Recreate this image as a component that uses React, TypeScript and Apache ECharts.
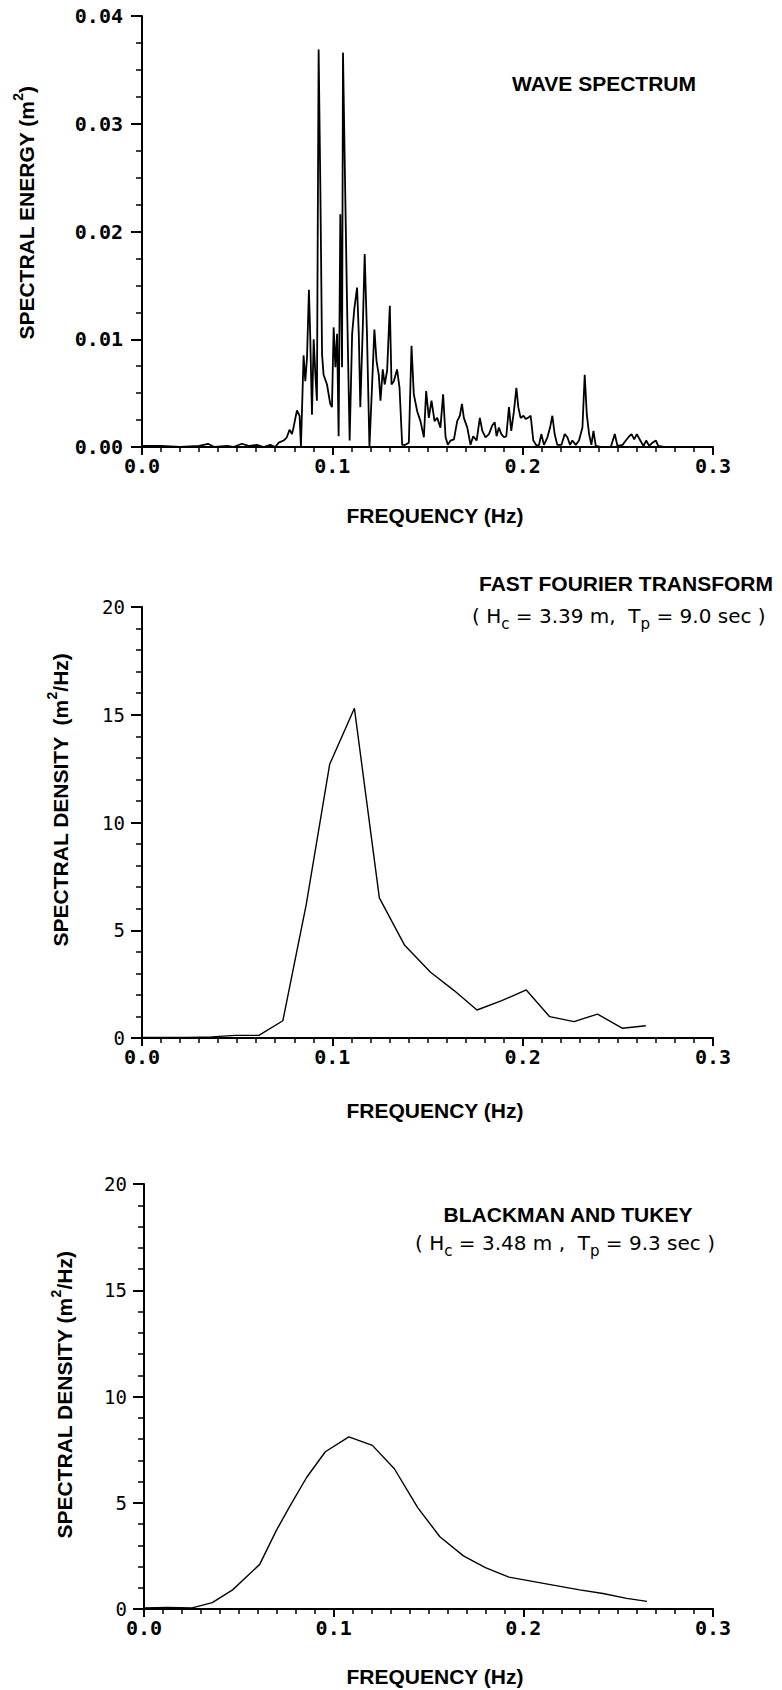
import React, { useEffect, useRef } from 'react';
import * as echarts from 'echarts';

// ---------- DATA ----------
const waveFreq = [
  0, 0.010, 0.020, 0.030, 0.0347, 0.038, 0.0447, 0.048, 0.0525, 0.056,
  0.0568, 0.0604, 0.0639, 0.0674, 0.0700, 0.0718, 0.0744, 0.0761, 0.0775, 0.0788,
  0.0796, 0.0814, 0.0828, 0.0835, 0.0849, 0.0858, 0.0867, 0.0877, 0.0884, 0.0893,
  0.0902, 0.0911, 0.0919, 0.0928, 0.0937, 0.0946, 0.0954, 0.0972, 0.0989, 0.0998,
  0.1007, 0.1016, 0.1025, 0.1033, 0.1042, 0.1051, 0.1056, 0.1065, 0.1077, 0.1091,
  0.1104, 0.1116, 0.1130, 0.1139, 0.1147, 0.1160, 0.1170, 0.1182, 0.1195, 0.1209,
  0.1221, 0.1232, 0.1244, 0.1253, 0.1265, 0.1275, 0.1288, 0.1302, 0.1311, 0.1323,
  0.1340, 0.1353, 0.1367, 0.1384, 0.1402, 0.1416, 0.1428, 0.1446, 0.1463, 0.1481,
  0.1493, 0.1507, 0.1521, 0.1537, 0.1551, 0.1568, 0.1582, 0.1595, 0.1607, 0.1621,
  0.1639, 0.1656, 0.1670, 0.1681, 0.1691, 0.1709, 0.1726, 0.1740, 0.1758, 0.1775,
  0.1788, 0.1805, 0.1823, 0.1840, 0.1853, 0.1863, 0.1875, 0.1888, 0.1902, 0.1914,
  0.1928, 0.1940, 0.1954, 0.1967, 0.1977, 0.1989, 0.2004, 0.2016, 0.2028, 0.2042,
  0.2056, 0.2074, 0.2086, 0.2098, 0.2112, 0.2130, 0.2144, 0.2156, 0.2168, 0.2182,
  0.2204, 0.2221, 0.2235, 0.2249, 0.2261, 0.2279, 0.2296, 0.2314, 0.2326, 0.2337,
  0.2349, 0.2361, 0.2372, 0.2384, 0.2411, 0.2463, 0.2484, 0.2498, 0.2525, 0.2542,
  0.2560, 0.2572, 0.2586, 0.2600, 0.2618, 0.2635, 0.2649, 0.2665, 0.2682, 0.2700,
  0.2712, 0.2744,
];
const waveEnergy = [
  0.0001, 0.0001, 0.0000, 0.0001, 0.0003, 0.0000, 0.0001, 0.0000, 0.0003, 0.0001,
  0.0001, 0.0002, 0.0000, 0.0002, 0.0000, 0.0004, 0.0006, 0.0009, 0.0016, 0.0012,
  0.0018, 0.0034, 0.0029, 0.0000, 0.0085, 0.0061, 0.0083, 0.0146, 0.0102, 0.0030,
  0.0100, 0.0067, 0.0043, 0.0369, 0.0241, 0.0086, 0.0067, 0.0058, 0.0040, 0.0037,
  0.0111, 0.0074, 0.0105, 0.0010, 0.0216, 0.0074, 0.0366, 0.0266, 0.0136, 0.0006,
  0.0105, 0.0129, 0.0148, 0.0105, 0.0037, 0.0111, 0.0179, 0.0105, 0.0000, 0.0058,
  0.0109, 0.0080, 0.0067, 0.0043, 0.0072, 0.0058, 0.0071, 0.0131, 0.0058, 0.0061,
  0.0072, 0.0055, 0.0002, 0.0002, 0.0004, 0.0094, 0.0049, 0.0033, 0.0024, 0.0009,
  0.0052, 0.0027, 0.0043, 0.0024, 0.0027, 0.0018, 0.0049, 0.0009, 0.0002, 0.0006,
  0.0007, 0.0024, 0.0029, 0.0040, 0.0027, 0.0018, 0.0002, 0.0010, 0.0006, 0.0027,
  0.0015, 0.0009, 0.0012, 0.0020, 0.0023, 0.0010, 0.0018, 0.0012, 0.0009, 0.0010,
  0.0037, 0.0015, 0.0033, 0.0055, 0.0037, 0.0027, 0.0029, 0.0026, 0.0027, 0.0029,
  0.0006, 0.0001, 0.0002, 0.0012, 0.0002, 0.0009, 0.0018, 0.0029, 0.0012, 0.0002,
  0.0002, 0.0012, 0.0009, 0.0002, 0.0006, 0.0002, 0.0006, 0.0018, 0.0067, 0.0030,
  0.0012, 0.0002, 0.0015, 0.0001, 0.0000, 0.0000, 0.0012, 0.0001, 0.0002, 0.0006,
  0.0010, 0.0012, 0.0007, 0.0012, 0.0006, 0.0001, 0.0006, 0.0001, 0.0004, 0.0006,
  0.0001, 0.0000,
];

const fftFreq = [
  0, 0.0116, 0.0241, 0.0366, 0.049, 0.0614, 0.074, 0.0863, 0.0986, 0.1116, 0.1247,
  0.138, 0.1516, 0.164, 0.176, 0.189, 0.2019, 0.2142, 0.227, 0.2393, 0.2525, 0.2647,
];
const fftDensity = [
  0.02, 0.02, 0.03, 0.05, 0.12, 0.12, 0.8, 6.2, 12.7, 15.3, 6.5,
  4.3, 3.05, 2.2, 1.3, 1.73, 2.23, 0.99, 0.76, 1.11, 0.45, 0.57,
];

const btFreq = [
  0, 0.0124, 0.0254, 0.036, 0.0467, 0.061, 0.0698, 0.077, 0.0858, 0.0956, 0.108, 0.1204,
  0.132, 0.1444, 0.156, 0.1684, 0.18, 0.1924, 0.2048, 0.2172, 0.2297, 0.242, 0.2545, 0.2652,
];
const btDensity = [
  0.05, 0.07, 0.05, 0.3, 0.9, 2.1, 3.7, 4.85, 6.2, 7.4, 8.1, 7.7,
  6.6, 4.76, 3.4, 2.5, 1.95, 1.5, 1.3, 1.1, 0.9, 0.73, 0.5, 0.36,
];

const freqTickLabels = ['0.0', '0.1', '0.2', '0.3'];
const energyTickLabels = ['0.00', '0.01', '0.02', '0.03', '0.04'];
const densityTickLabels = ['0', '5', '10', '15', '20'];

// ---------- LAYOUT ----------
const grids = [
  { left: 142, top: 16, width: 571, height: 431 },
  { left: 142, top: 607, width: 571, height: 431 },
  { left: 144, top: 1184, width: 569, height: 425 },
];

const MONO = '"DejaVu Sans Mono", "Liberation Mono", monospace';
const SANS = '"Liberation Sans", Arial, sans-serif';
const GEO = '"DejaVu Sans", "Noto Sans", sans-serif';

function xAxisFor(i: number) {
  return {
    type: 'value',
    gridIndex: i,
    min: 0,
    max: 0.3,
    interval: 0.1,
    axisLine: { show: true, onZero: false, lineStyle: { color: '#000', width: 2 } },
    axisTick: { show: true, length: 8, lineStyle: { color: '#000', width: 2 } },
    minorTick: { show: true, splitNumber: 10, length: 5, lineStyle: { color: '#000', width: 1.5 } },
    splitLine: { show: false },
    minorSplitLine: { show: false },
    axisLabel: {
      margin: 9,
      showMaxLabel: true,
      showMinLabel: true,
      formatter: (v: number) => freqTickLabels[Math.round(v * 10)] ?? '',
      fontFamily: MONO,
      fontWeight: 'bold',
      fontSize: 20,
      color: '#000',
    },
  };
}

function yAxisFor(i: number) {
  const isEnergy = i === 0;
  return {
    type: 'value',
    gridIndex: i,
    min: 0,
    max: isEnergy ? 0.04 : 20,
    interval: isEnergy ? 0.01 : 5,
    axisLine: { show: true, onZero: false, lineStyle: { color: '#000', width: 2 } },
    axisTick: { show: true, length: 11, lineStyle: { color: '#000', width: 2 } },
    minorTick: {
      show: true,
      splitNumber: isEnergy ? 4 : 5,
      length: 6,
      lineStyle: { color: '#000', width: 1.5 },
    },
    splitLine: { show: false },
    minorSplitLine: { show: false },
    axisLabel: {
      margin: isEnergy ? 19 : 17,
      showMaxLabel: true,
      showMinLabel: true,
      formatter: (v: number) =>
        isEnergy
          ? energyTickLabels[Math.round(v / 0.01)] ?? ''
          : densityTickLabels[Math.round(v / 5)] ?? '',
      fontFamily: MONO,
      fontWeight: isEnergy ? 'bold' : 'normal',
      fontSize: isEnergy ? 20 : 19,
      color: '#000',
    },
  };
}

function pairs(xs: number[], ys: number[]) {
  return xs.map((x, k) => [x, ys[k]]);
}

function titleText(x: number, y: number, text: string) {
  return {
    type: 'text',
    x,
    y,
    style: {
      text,
      fill: '#000',
      fontFamily: SANS,
      fontWeight: 'bold',
      fontSize: 21,
      align: 'center',
      verticalAlign: 'middle',
    },
  };
}

const richMain = { fontFamily: SANS, fontWeight: 'bold', fontSize: 21, lineHeight: 30, fill: '#000' };
const richSup = { fontFamily: SANS, fontWeight: 'bold', fontSize: 14, lineHeight: 14, verticalAlign: 'top', fill: '#000' };
const geoMain = { fontFamily: GEO, fontWeight: 'normal', fontSize: 20, lineHeight: 30, fill: '#000' };
const geoSub = { fontFamily: GEO, fontWeight: 'normal', fontSize: 15, lineHeight: 15, verticalAlign: 'bottom', fill: '#000' };

function yTitle(x: number, y: number, text: string) {
  return {
    type: 'text',
    x,
    y,
    rotation: Math.PI / 2,
    style: {
      text,
      fill: '#000',
      align: 'center',
      verticalAlign: 'middle',
      rich: { a: richMain, s: richSup },
    },
  };
}

function paramText(x: number, y: number, text: string) {
  return {
    type: 'text',
    x,
    y,
    style: {
      text,
      fill: '#000',
      align: 'left',
      verticalAlign: 'middle',
      rich: { a: geoMain, b: geoSub },
    },
  };
}

export default function App() {
  const ref = useRef<HTMLDivElement>(null);

  useEffect(() => {
    if (!ref.current) return;
    const chart = echarts.init(ref.current, undefined, { renderer: 'svg' });
    const lineSeries = (i: number, data: number[][], w: number) => ({
      type: 'line',
      xAxisIndex: i,
      yAxisIndex: i,
      data,
      showSymbol: false,
      symbol: 'none',
      smooth: false,
      lineStyle: { color: '#000', width: w },
      silent: true,
      z: 3,
    });
    chart.setOption({
      animation: false,
      backgroundColor: '#fff',
      grid: grids.map((g) => ({ ...g, containLabel: false })),
      xAxis: [xAxisFor(0), xAxisFor(1), xAxisFor(2)],
      yAxis: [yAxisFor(0), yAxisFor(1), yAxisFor(2)],
      series: [
        lineSeries(0, pairs(waveFreq, waveEnergy), 1.8),
        lineSeries(1, pairs(fftFreq, fftDensity), 1.4),
        lineSeries(2, pairs(btFreq, btDensity), 1.4),
      ],
      graphic: [
        titleText(604, 83, 'WAVE SPECTRUM'),
        titleText(435, 515, 'FREQUENCY (Hz)'),
        titleText(626, 583, 'FAST FOURIER TRANSFORM'),
        paramText(472, 616, '{a|( H}{b|c}{a| = 3.39 m,  T}{b|p}{a| = 9.0 sec )}'),
        titleText(435, 1110, 'FREQUENCY (Hz)'),
        titleText(568, 1214, 'BLACKMAN AND TUKEY'),
        paramText(415, 1243, '{a|( H}{b|c}{a| = 3.48 m ,  T}{b|p}{a| = 9.3 sec )}'),
        titleText(435, 1676, 'FREQUENCY (Hz)'),
        yTitle(26, 213, '{a|SPECTRAL ENERGY (m}{s|2}{a|)}'),
        yTitle(60, 800, '{a|SPECTRAL DENSITY  (m}{s|2}{a|/Hz)}'),
        yTitle(64, 1395, '{a|SPECTRAL DENSITY (m}{s|2}{a|/Hz)}'),
      ],
    });
    return () => chart.dispose();
  }, []);

  return (
    <div
      ref={ref}
      style={{ position: 'absolute', left: 0, top: 0, width: 782, height: 1690, background: '#fff' }}
    />
  );
}
